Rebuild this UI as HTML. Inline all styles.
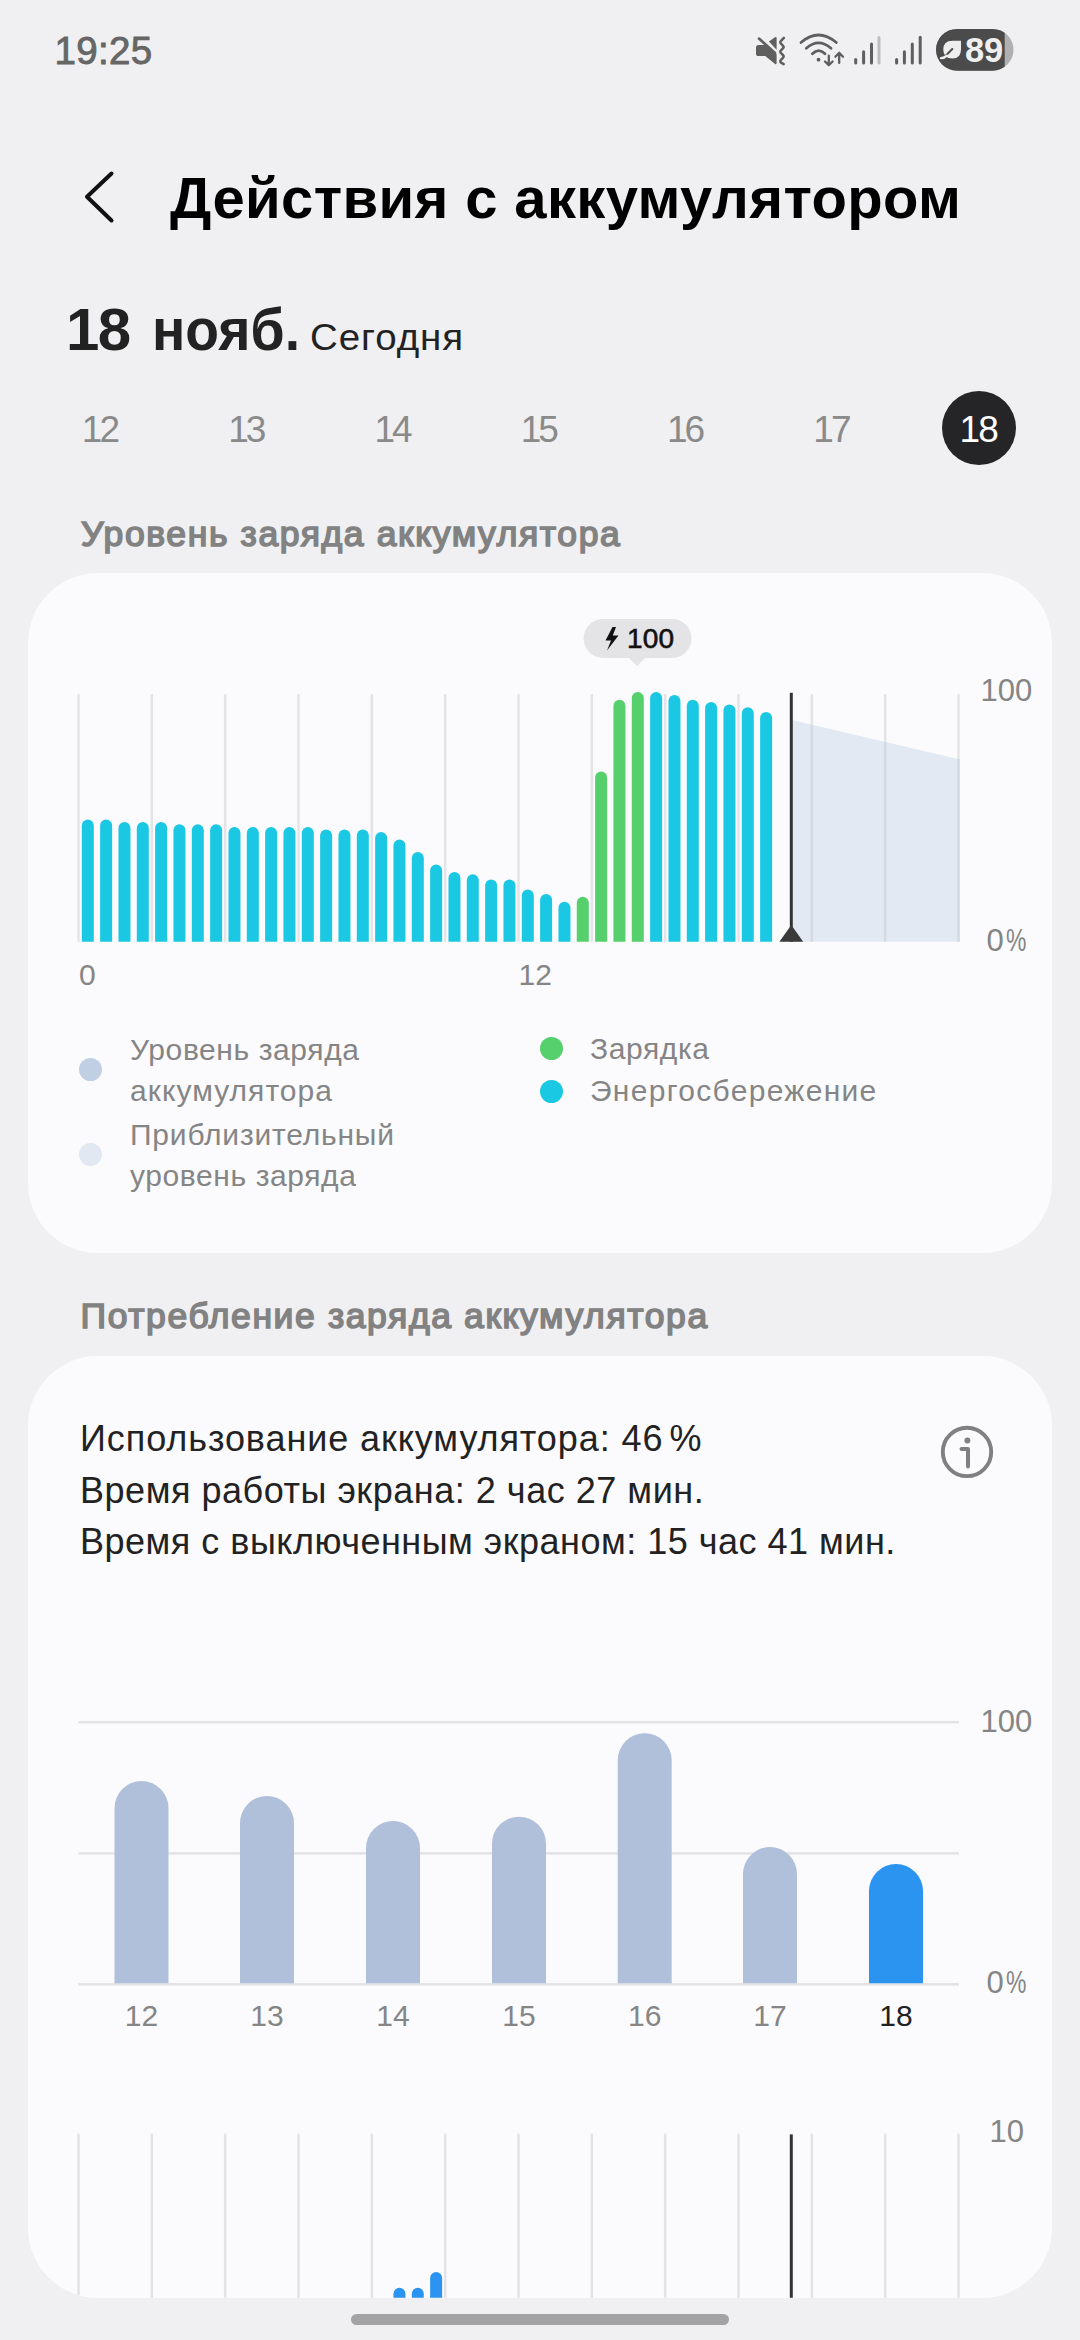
<!DOCTYPE html>
<html><head><meta charset="utf-8"><title>Battery</title>
<style>
html,body{margin:0;padding:0}
body{width:1080px;height:2340px;overflow:hidden;background:#f0f0f2;position:relative;font-family:"Liberation Sans",sans-serif}
.abs{position:absolute}
.t{position:absolute;white-space:nowrap;line-height:1}
</style></head><body>
<div class="t" style="top:31.6px;font-size:38.5px;font-weight:400;color:#666;letter-spacing:0.35px;left:54.5px;-webkit-text-stroke:0.9px #666;">19:25</div>
<svg class="abs" style="left:740px;top:20px" width="300" height="60" viewBox="740 20 300 60">
  <g fill="#5f5f5f">
    <!-- mute speaker -->
    <path d="M756 47.6 Q756 45 758.6 45 L766.2 45 L776.6 54.3 L776.6 63 Q776.6 65.2 774.8 63.8 L765.2 56 L758.6 56 Q756 56 756 53.4 Z"/>
    <path d="M768.9 41.6 L775 37.2 Q776.6 36.3 776.6 38.3 L776.6 49.8 Z"/>
  </g>
  <line x1="759" y1="38.6" x2="775" y2="52.9" stroke="#5f5f5f" stroke-width="2.7" stroke-linecap="round"/>
  <path d="M783.9 37.8 L781 40.9 Q779.6 42.3 781 43.7 L782.9 45.6 Q784.3 47 782.9 48.4 L781 50.4 Q779.6 51.8 781 53.2 L782.9 55 Q784.3 56.4 782.9 57.8 L781 59.8 Q779.6 61.2 781 62.6 L783.7 64.1" fill="none" stroke="#5f5f5f" stroke-width="2.5" stroke-linecap="round" stroke-linejoin="round"/>
  <!-- wifi -->
  <g fill="none" stroke="#5f5f5f" stroke-width="2.8" stroke-linecap="round">
    <path d="M801 42.5 Q818.5 27.5 836.3 42.5"/>
    <path d="M806.3 48.3 Q818.5 37.5 831 48.3"/>
    <path d="M812.4 53.8 Q818.6 47.5 825 53.8"/>
  </g>
  <circle cx="818.5" cy="59.7" r="1.9" fill="#5f5f5f"/>
  <g fill="none" stroke="#5f5f5f" stroke-width="2.3" stroke-linecap="round" stroke-linejoin="round">
    <path d="M828.8 55.7 v9.5 M825 61.5 l3.8 3.8 l3.8 -3.8"/>
    <path d="M839.2 62.9 v-10 M835.4 56.7 l3.8 -3.9 l3.8 3.9"/>
  </g>
  <!-- signal 1 -->
  <g stroke-width="3" stroke-linecap="round">
    <line x1="855.7" y1="59.5" x2="855.7" y2="63" stroke="#5f5f5f"/>
    <line x1="863.6" y1="51.7" x2="863.6" y2="63" stroke="#5f5f5f"/>
    <line x1="871.5" y1="44" x2="871.5" y2="63" stroke="#5f5f5f"/>
    <line x1="879" y1="37.5" x2="879" y2="63" stroke="#bdbdbd"/>
    <line x1="896.6" y1="59.5" x2="896.6" y2="63" stroke="#5f5f5f"/>
    <line x1="904.4" y1="51.7" x2="904.4" y2="63" stroke="#5f5f5f"/>
    <line x1="912.3" y1="44" x2="912.3" y2="63" stroke="#5f5f5f"/>
    <line x1="920.2" y1="37.3" x2="920.2" y2="63" stroke="#5f5f5f"/>
  </g>
  <!-- battery -->
  <defs><clipPath id="bclip"><rect x="936" y="29" width="77.5" height="41.7" rx="20.85"/></clipPath></defs>
  <g clip-path="url(#bclip)">
    <rect x="936" y="29" width="80" height="42" fill="#b0b0b0"/>
    <rect x="936" y="29" width="68.7" height="42" fill="#4b4b4b"/>
  </g>
  <path d="M961 40.8 L952.3 40.8 Q943.3 40.8 943.3 49.6 Q943.3 58.6 952.3 58.6 Q961 58.6 961 49.6 Z" fill="#eeeeee"/>
  <line x1="945.8" y1="55.6" x2="952.3" y2="49" stroke="#4b4b4b" stroke-width="2" stroke-linecap="round"/>
  <path d="M941 58.2 Q944.5 58 947 55.6" fill="none" stroke="#eeeeee" stroke-width="2.3" stroke-linecap="round"/>
</svg>
<div class="t" style="top:32.6px;font-size:34.5px;font-weight:700;color:#efefef;letter-spacing:-0.2px;left:965.0px;">89</div>
<svg class="abs" style="left:80px;top:165px" width="40" height="64" viewBox="80 165 40 64">
<polyline points="111.5,173.5 87,196.8 111.5,220.5" fill="none" stroke="#111" stroke-width="4" stroke-linecap="round" stroke-linejoin="round"/></svg>
<div class="t" style="top:168.6px;font-size:58px;font-weight:700;color:#000;letter-spacing:0.37px;left:170.0px;">Действия с аккумулятором</div>
<div class="t" style="top:299.5px;font-size:60px;font-weight:700;color:#222;letter-spacing:-1.6px;left:66.0px;">18</div>
<div class="t" style="top:299.5px;font-size:60px;font-weight:700;color:#222;left:152.0px;transform:scaleX(0.92);transform-origin:0 0;">нояб.</div>
<div class="t" style="top:319.0px;font-size:37px;font-weight:400;color:#222;letter-spacing:0.9px;left:309.5px;transform:scaleX(1.04);transform-origin:0 0;">Сегодня</div>
<div class="t" style="top:410.7px;font-size:37px;font-weight:400;color:#8a8a8a;letter-spacing:-3px;left:-199.1px;width:600px;text-align:center;">1<span style="letter-spacing:0">2</span></div>
<div class="t" style="top:410.7px;font-size:37px;font-weight:400;color:#8a8a8a;letter-spacing:-3px;left:-52.8px;width:600px;text-align:center;">1<span style="letter-spacing:0">3</span></div>
<div class="t" style="top:410.7px;font-size:37px;font-weight:400;color:#8a8a8a;letter-spacing:-3px;left:93.5px;width:600px;text-align:center;">1<span style="letter-spacing:0">4</span></div>
<div class="t" style="top:410.7px;font-size:37px;font-weight:400;color:#8a8a8a;letter-spacing:-3px;left:239.8px;width:600px;text-align:center;">1<span style="letter-spacing:0">5</span></div>
<div class="t" style="top:410.7px;font-size:37px;font-weight:400;color:#8a8a8a;letter-spacing:-3px;left:386.1px;width:600px;text-align:center;">1<span style="letter-spacing:0">6</span></div>
<div class="t" style="top:410.7px;font-size:37px;font-weight:400;color:#8a8a8a;letter-spacing:-3px;left:532.4px;width:600px;text-align:center;">1<span style="letter-spacing:0">7</span></div>
<div class="abs" style="left:942.2px;top:390.8px;width:74px;height:74px;border-radius:50%;background:#252527"></div>
<div class="t" style="top:410.9px;font-size:37px;font-weight:400;color:#fff;letter-spacing:-2px;left:679.2px;width:600px;text-align:center;">1<span style="letter-spacing:0">8</span></div>
<div class="t" style="top:516.5px;font-size:35.5px;font-weight:400;color:#828282;letter-spacing:1.61px;left:81.0px;-webkit-text-stroke:1.6px #828282;">Уровень заряда аккумулятора</div>
<div class="abs" style="left:28px;top:573px;width:1024px;height:679.5px;border-radius:70px;background:#fbfbfd"></div>
<svg class="abs" style="left:0;top:600px" width="1080" height="420" viewBox="0 600 1080 420">
<polygon points="792,720 960,759.4 960,941.7 792,941.7" fill="#e3e9f3"/>
<rect x="77.25" y="694" width="2.5" height="247.7" fill="#e3e3e6" opacity="0.95"/>
<rect x="150.58" y="694" width="2.5" height="247.7" fill="#e3e3e6" opacity="0.95"/>
<rect x="223.92" y="694" width="2.5" height="247.7" fill="#e3e3e6" opacity="0.95"/>
<rect x="297.25" y="694" width="2.5" height="247.7" fill="#e3e3e6" opacity="0.95"/>
<rect x="370.58" y="694" width="2.5" height="247.7" fill="#e3e3e6" opacity="0.95"/>
<rect x="443.91" y="694" width="2.5" height="247.7" fill="#e3e3e6" opacity="0.95"/>
<rect x="517.25" y="694" width="2.5" height="247.7" fill="#e3e3e6" opacity="0.95"/>
<rect x="590.58" y="694" width="2.5" height="247.7" fill="#e3e3e6" opacity="0.95"/>
<rect x="663.91" y="694" width="2.5" height="247.7" fill="#e3e3e6" opacity="0.95"/>
<rect x="737.25" y="694" width="2.5" height="247.7" fill="#e3e3e6" opacity="0.95"/>
<rect x="810.58" y="694" width="2.5" height="247.7" fill="#e3e3e6" opacity="0.95"/>
<rect x="883.91" y="694" width="2.5" height="247.7" fill="#e3e3e6" opacity="0.95"/>
<rect x="957.25" y="694" width="2.5" height="247.7" fill="#e3e3e6" opacity="0.95"/>
<path d="M81.80 941.7 V825.40 a6 6 0 0 1 12 0 V941.7 z" fill="#1bc8e3"/>
<path d="M100.13 941.7 V825.40 a6 6 0 0 1 12 0 V941.7 z" fill="#1bc8e3"/>
<path d="M118.47 941.7 V828.00 a6 6 0 0 1 12 0 V941.7 z" fill="#1bc8e3"/>
<path d="M136.80 941.7 V828.00 a6 6 0 0 1 12 0 V941.7 z" fill="#1bc8e3"/>
<path d="M155.13 941.7 V828.00 a6 6 0 0 1 12 0 V941.7 z" fill="#1bc8e3"/>
<path d="M173.46 941.7 V830.30 a6 6 0 0 1 12 0 V941.7 z" fill="#1bc8e3"/>
<path d="M191.80 941.7 V830.30 a6 6 0 0 1 12 0 V941.7 z" fill="#1bc8e3"/>
<path d="M210.13 941.7 V830.30 a6 6 0 0 1 12 0 V941.7 z" fill="#1bc8e3"/>
<path d="M228.46 941.7 V832.90 a6 6 0 0 1 12 0 V941.7 z" fill="#1bc8e3"/>
<path d="M246.80 941.7 V832.90 a6 6 0 0 1 12 0 V941.7 z" fill="#1bc8e3"/>
<path d="M265.13 941.7 V832.90 a6 6 0 0 1 12 0 V941.7 z" fill="#1bc8e3"/>
<path d="M283.46 941.7 V832.90 a6 6 0 0 1 12 0 V941.7 z" fill="#1bc8e3"/>
<path d="M301.80 941.7 V832.90 a6 6 0 0 1 12 0 V941.7 z" fill="#1bc8e3"/>
<path d="M320.13 941.7 V835.40 a6 6 0 0 1 12 0 V941.7 z" fill="#1bc8e3"/>
<path d="M338.46 941.7 V835.40 a6 6 0 0 1 12 0 V941.7 z" fill="#1bc8e3"/>
<path d="M356.80 941.7 V835.40 a6 6 0 0 1 12 0 V941.7 z" fill="#1bc8e3"/>
<path d="M375.13 941.7 V837.90 a6 6 0 0 1 12 0 V941.7 z" fill="#1bc8e3"/>
<path d="M393.46 941.7 V845.40 a6 6 0 0 1 12 0 V941.7 z" fill="#1bc8e3"/>
<path d="M411.79 941.7 V857.90 a6 6 0 0 1 12 0 V941.7 z" fill="#1bc8e3"/>
<path d="M430.13 941.7 V870.40 a6 6 0 0 1 12 0 V941.7 z" fill="#1bc8e3"/>
<path d="M448.46 941.7 V878.00 a6 6 0 0 1 12 0 V941.7 z" fill="#1bc8e3"/>
<path d="M466.79 941.7 V880.30 a6 6 0 0 1 12 0 V941.7 z" fill="#1bc8e3"/>
<path d="M485.13 941.7 V885.40 a6 6 0 0 1 12 0 V941.7 z" fill="#1bc8e3"/>
<path d="M503.46 941.7 V885.40 a6 6 0 0 1 12 0 V941.7 z" fill="#1bc8e3"/>
<path d="M521.79 941.7 V895.40 a6 6 0 0 1 12 0 V941.7 z" fill="#1bc8e3"/>
<path d="M540.12 941.7 V900.00 a6 6 0 0 1 12 0 V941.7 z" fill="#1bc8e3"/>
<path d="M558.46 941.7 V907.70 a6 6 0 0 1 12 0 V941.7 z" fill="#1bc8e3"/>
<path d="M576.79 941.7 V902.70 a6 6 0 0 1 12 0 V941.7 z" fill="#55d06d"/>
<path d="M595.12 941.7 V777.50 a6 6 0 0 1 12 0 V941.7 z" fill="#55d06d"/>
<path d="M613.46 941.7 V705.70 a6 6 0 0 1 12 0 V941.7 z" fill="#55d06d"/>
<path d="M631.79 941.7 V698.00 a6 6 0 0 1 12 0 V941.7 z" fill="#55d06d"/>
<path d="M650.12 941.7 V698.00 a6 6 0 0 1 12 0 V941.7 z" fill="#1bc8e3"/>
<path d="M668.46 941.7 V700.90 a6 6 0 0 1 12 0 V941.7 z" fill="#1bc8e3"/>
<path d="M686.79 941.7 V705.70 a6 6 0 0 1 12 0 V941.7 z" fill="#1bc8e3"/>
<path d="M705.12 941.7 V708.10 a6 6 0 0 1 12 0 V941.7 z" fill="#1bc8e3"/>
<path d="M723.45 941.7 V710.60 a6 6 0 0 1 12 0 V941.7 z" fill="#1bc8e3"/>
<path d="M741.79 941.7 V713.20 a6 6 0 0 1 12 0 V941.7 z" fill="#1bc8e3"/>
<path d="M760.12 941.7 V718.00 a6 6 0 0 1 12 0 V941.7 z" fill="#1bc8e3"/>
<rect x="810.58" y="724.7" width="2.5" height="217.0" fill="#d5dae2"/>
<rect x="883.91" y="741.8" width="2.5" height="199.9" fill="#d5dae2"/>
<rect x="957.25" y="759.0" width="2.5" height="182.7" fill="#d5dae2"/>
<rect x="789.8" y="692.8" width="3" height="248.9" fill="#333"/>
<polygon points="791.3,925 779.4,941.7 803.2,941.7" fill="#3a3a3a"/>
<rect x="583.6" y="619" width="107.9" height="39" rx="19.5" fill="#e4e4e6"/>
<polygon points="628.5,657.5 645.5,657.5 637,666" fill="#e4e4e6"/>
<path d="M612.5 627 L605.5 640.5 H611 L607 650.5 L618.5 635.5 H612.8 L616 627 z" fill="#111"/>
</svg>
<div class="t" style="top:625.3px;font-size:28px;font-weight:400;color:#111;letter-spacing:0.2px;left:627.0px;-webkit-text-stroke:0.6px #111;">100</div>
<div class="t" style="top:675.4px;font-size:31px;font-weight:400;color:#858585;left:980.5px;">100</div>
<div class="t" style="top:924.8px;font-size:31px;font-weight:400;color:#858585;left:986.5px;">0<span style="display:inline-block;transform:scaleX(0.74);transform-origin:0 0;margin-left:2px">%</span></div>
<div class="t" style="top:960.1px;font-size:30px;font-weight:400;color:#858585;left:79.0px;">0</div>
<div class="t" style="top:960.1px;font-size:30px;font-weight:400;color:#858585;left:518.5px;">12</div>
<div class="abs" style="left:79px;top:1057.8px;width:23px;height:23px;border-radius:50%;background:#c0cfe4"></div>
<div class="abs" style="left:79px;top:1142.8px;width:23px;height:23px;border-radius:50%;background:#e1e8f2"></div>
<div class="abs" style="left:540.2px;top:1037.4px;width:23px;height:23px;border-radius:50%;background:#55d06d"></div>
<div class="abs" style="left:540.2px;top:1079.5px;width:23px;height:23px;border-radius:50%;background:#1bc8e3"></div>
<div class="t" style="top:1034.6px;font-size:30px;font-weight:400;color:#858585;letter-spacing:0.6px;left:130.0px;">Уровень заряда</div>
<div class="t" style="top:1076.3px;font-size:30px;font-weight:400;color:#858585;letter-spacing:1.05px;left:130.0px;">аккумулятора</div>
<div class="t" style="top:1119.6px;font-size:30px;font-weight:400;color:#858585;letter-spacing:0.8px;left:130.0px;">Приблизительный</div>
<div class="t" style="top:1161.3px;font-size:30px;font-weight:400;color:#858585;letter-spacing:0.6px;left:130.0px;">уровень заряда</div>
<div class="t" style="top:1034.0px;font-size:30px;font-weight:400;color:#858585;letter-spacing:0.6px;left:590.0px;">Зарядка</div>
<div class="t" style="top:1075.6px;font-size:30px;font-weight:400;color:#858585;letter-spacing:1.3px;left:590.0px;">Энергосбережение</div>
<div class="t" style="top:1299.1px;font-size:35.5px;font-weight:400;color:#828282;letter-spacing:1.61px;left:80.5px;-webkit-text-stroke:1.6px #828282;">Потребление заряда аккумулятора</div>
<div class="abs" style="left:28px;top:1356.2px;width:1024px;height:941.6px;border-radius:70px;background:#fbfbfd;overflow:hidden">
</div>
<div class="t" style="top:1421.2px;font-size:36px;font-weight:400;color:#222;letter-spacing:0.92px;left:80.0px;">Использование аккумулятора: 46<span style="display:inline-block;width:6px"></span>%</div>
<div class="t" style="top:1472.5px;font-size:36px;font-weight:400;color:#222;letter-spacing:0.53px;left:80.0px;">Время работы экрана: 2 час 27 мин.</div>
<div class="t" style="top:1523.9px;font-size:36px;font-weight:400;color:#222;letter-spacing:0.5px;left:80.0px;">Время с выключенным экраном: 15 час 41 мин.</div>
<svg class="abs" style="left:930px;top:1415px" width="75" height="75" viewBox="930 1415 75 75">
<circle cx="967" cy="1451.9" r="24.2" fill="none" stroke="#808080" stroke-width="3.9"/>
<circle cx="967.4" cy="1440.4" r="3" fill="#808080"/>
<path d="M961.5 1449 H968 V1466.5" fill="none" stroke="#808080" stroke-width="4" stroke-linecap="round" stroke-linejoin="round"/>
</svg>
<svg class="abs" style="left:0;top:1700px" width="1080" height="340" viewBox="0 1700 1080 340">
<rect x="78.3" y="1720.95" width="880.7" height="2.5" fill="#e3e3e6"/>
<rect x="78.3" y="1852.15" width="880.7" height="2.5" fill="#e3e3e6"/>
<rect x="78.3" y="1983.05" width="880.7" height="2.5" fill="#e3e3e6"/>
<path d="M114.50 1983.2 V1808.00 a27 27 0 0 1 54 0 V1983.2 z" fill="#b1c0da"/>
<path d="M240.00 1983.2 V1823.00 a27 27 0 0 1 54 0 V1983.2 z" fill="#b1c0da"/>
<path d="M366.00 1983.2 V1848.00 a27 27 0 0 1 54 0 V1983.2 z" fill="#b1c0da"/>
<path d="M492.00 1983.2 V1843.70 a27 27 0 0 1 54 0 V1983.2 z" fill="#b1c0da"/>
<path d="M617.70 1983.2 V1760.30 a27 27 0 0 1 54 0 V1983.2 z" fill="#b1c0da"/>
<path d="M743.00 1983.2 V1874.00 a27 27 0 0 1 54 0 V1983.2 z" fill="#b1c0da"/>
<path d="M869.00 1983.2 V1891.00 a27 27 0 0 1 54 0 V1983.2 z" fill="#2b94f1"/>
</svg>
<div class="t" style="top:1705.5px;font-size:31px;font-weight:400;color:#858585;left:980.5px;">100</div>
<div class="t" style="top:1966.8px;font-size:31px;font-weight:400;color:#858585;left:986.5px;">0<span style="display:inline-block;transform:scaleX(0.74);transform-origin:0 0;margin-left:2px">%</span></div>
<div class="t" style="top:2001.1px;font-size:30px;font-weight:400;color:#858585;left:-158.5px;width:600px;text-align:center;">12</div>
<div class="t" style="top:2001.1px;font-size:30px;font-weight:400;color:#858585;left:-33.0px;width:600px;text-align:center;">13</div>
<div class="t" style="top:2001.1px;font-size:30px;font-weight:400;color:#858585;left:93.0px;width:600px;text-align:center;">14</div>
<div class="t" style="top:2001.1px;font-size:30px;font-weight:400;color:#858585;left:219.0px;width:600px;text-align:center;">15</div>
<div class="t" style="top:2001.1px;font-size:30px;font-weight:400;color:#858585;left:344.7px;width:600px;text-align:center;">16</div>
<div class="t" style="top:2001.1px;font-size:30px;font-weight:400;color:#858585;left:470.0px;width:600px;text-align:center;">17</div>
<div class="t" style="top:2001.1px;font-size:30px;font-weight:400;color:#222;left:596.0px;width:600px;text-align:center;">18</div>
<svg class="abs" style="left:0;top:2100px" width="1080" height="240" viewBox="0 2100 1080 240"><defs><clipPath id="c2clip"><rect x="28" y="1356.2" width="1024" height="941.6" rx="70"/></clipPath></defs><g clip-path="url(#c2clip)">
<rect x="77.25" y="2133.6" width="2.5" height="200" fill="#e3e3e6"/>
<rect x="150.58" y="2133.6" width="2.5" height="200" fill="#e3e3e6"/>
<rect x="223.92" y="2133.6" width="2.5" height="200" fill="#e3e3e6"/>
<rect x="297.25" y="2133.6" width="2.5" height="200" fill="#e3e3e6"/>
<rect x="370.58" y="2133.6" width="2.5" height="200" fill="#e3e3e6"/>
<rect x="443.91" y="2133.6" width="2.5" height="200" fill="#e3e3e6"/>
<rect x="517.25" y="2133.6" width="2.5" height="200" fill="#e3e3e6"/>
<rect x="590.58" y="2133.6" width="2.5" height="200" fill="#e3e3e6"/>
<rect x="663.91" y="2133.6" width="2.5" height="200" fill="#e3e3e6"/>
<rect x="737.25" y="2133.6" width="2.5" height="200" fill="#e3e3e6"/>
<rect x="810.58" y="2133.6" width="2.5" height="200" fill="#e3e3e6"/>
<rect x="883.91" y="2133.6" width="2.5" height="200" fill="#e3e3e6"/>
<rect x="957.25" y="2133.6" width="2.5" height="200" fill="#e3e3e6"/>
<path d="M393.46 2300 V2293.80 a6 6 0 0 1 12 0 V2300 z" fill="#2b94f1"/>
<path d="M411.79 2300 V2293.80 a6 6 0 0 1 12 0 V2300 z" fill="#2b94f1"/>
<path d="M430.13 2300 V2277.90 a6 6 0 0 1 12 0 V2300 z" fill="#2b94f1"/>
<rect x="789.8" y="2134.4" width="3" height="200" fill="#333"/>
</g></svg>
<div class="t" style="top:2115.8px;font-size:31px;font-weight:400;color:#858585;left:989.5px;">10</div>
<div class="abs" style="left:351.4px;top:2314.1px;width:377.3px;height:11px;border-radius:5.5px;background:#a3a3a5"></div>

</body></html>
